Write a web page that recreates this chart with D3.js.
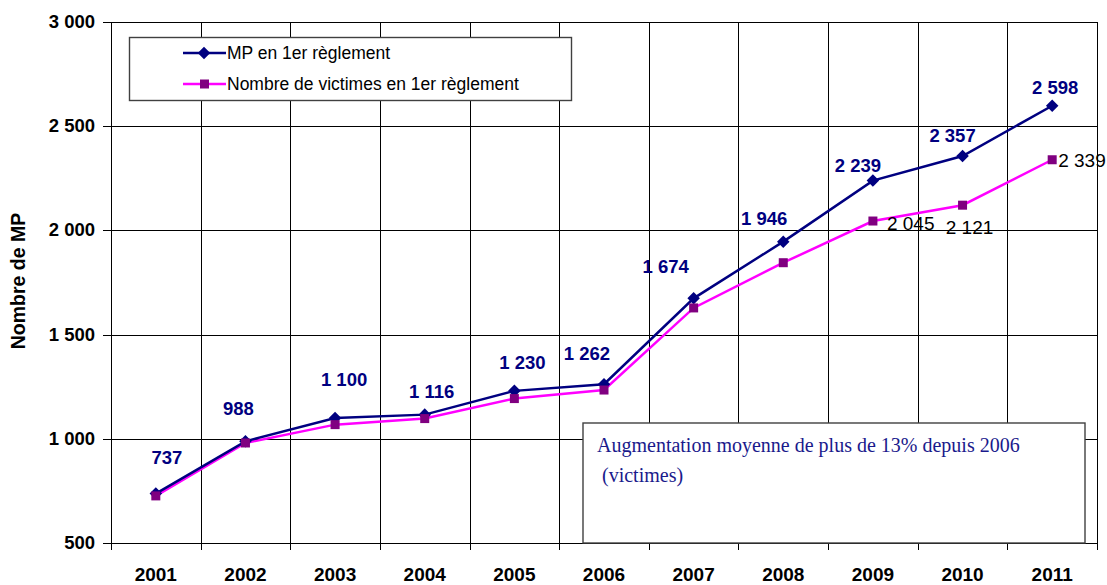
<!DOCTYPE html>
<html>
<head>
  <meta charset="utf-8">
  <script src="https://d3js.org/d3.v7.min.js"></script>
</head>
<style>
  body { margin: 0; background: #fff; }
  svg { display: block; font-family: "Liberation Sans", Arial, sans-serif; }
  .y-label { font-size: 18.5px; font-weight: bold; fill: #000; }
  .x-label { font-size: 19px; font-weight: bold; fill: #000; }
  .mp-label { font-size: 18.5px; font-weight: bold; fill: #000080; }
  .vic-label { font-size: 19px; fill: #000; }
  .legend-text { font-size: 17.5px; fill: #000; }
  .note { font-family: "Liberation Serif", "Times New Roman", serif; font-size: 20px; fill: #1a1a8c; }
</style>
<body>
  <svg id="chart" width="1107" height="585"></svg>
  <script>
    const years = ["2001", "2002", "2003", "2004", "2005", "2006", "2007", "2008", "2009", "2010", "2011"];
    const mpValues = [737, 988, 1100, 1116, 1230, 1262, 1674, 1946, 2239, 2357, 2598];
    const victimValues = [726, 980, 1068, 1097, 1193, 1234, 1628, 1845, 2045, 2121, 2339];
    const yTicks = [500, 1000, 1500, 2000, 2500, 3000];
    const seriesNames = ["MP en 1er règlement", "Nombre de victimes en 1er règlement"];
    const noteLines = ["Augmentation moyenne de plus de 13% depuis 2006", " (victimes)"];

    const svg = d3.select("#chart");
    const plotLeft = 111, plotRight = 1097, plotTop = 22, plotBottom = 543;

    const x = d3.scaleBand().domain(years).range([plotLeft, plotRight]);
    const y = d3.scaleLinear().domain([500, 3000]).range([plotBottom, plotTop]);
    const fmt = v => d3.format(",")(v).replace(/,/g, " ");
    const cx = d => x(d) + x.bandwidth() / 2;

    // horizontal grid, ticks to the left of the axis
    svg.append("g").selectAll("line").data(yTicks).join("line")
      .attr("x1", plotLeft - 8).attr("x2", plotRight)
      .attr("y1", d => Math.round(y(d)) + 0.5).attr("y2", d => Math.round(y(d)) + 0.5)
      .attr("stroke", "#000").attr("stroke-width", 1);

    // vertical grid at band edges, ticks below the axis
    const edges = years.map(d => x(d)).concat([plotRight]);
    svg.append("g").selectAll("line").data(edges).join("line")
      .attr("x1", d => Math.round(d) + 0.5).attr("x2", d => Math.round(d) + 0.5)
      .attr("y1", plotTop).attr("y2", plotBottom + 7)
      .attr("stroke", "#000").attr("stroke-width", 1);

    // y labels
    svg.append("g").selectAll("text").data(yTicks).join("text")
      .attr("class", "y-label")
      .attr("x", plotLeft - 16).attr("y", d => y(d) + 6)
      .attr("text-anchor", "end")
      .text(fmt);

    // x labels
    svg.append("g").selectAll("text").data(years).join("text")
      .attr("class", "x-label")
      .attr("x", cx).attr("y", 581)
      .attr("text-anchor", "middle")
      .text(d => d);

    svg.append("text")
      .attr("transform", "translate(25,281) rotate(-90)")
      .attr("text-anchor", "middle")
      .style("font-size", "19.5px").style("font-weight", "bold")
      .text("Nombre de MP");

    // note box
    svg.append("rect")
      .attr("x", 583).attr("y", 423).attr("width", 502).attr("height", plotBottom - 423)
      .attr("fill", "#fff").attr("stroke", "#404040").attr("stroke-width", 1.4);
    noteLines.forEach((t, i) => {
      svg.append("text").attr("class", "note")
        .attr("x", 597).attr("y", 452 + i * 30)
        .attr("xml:space", "preserve")
        .text(t);
    });

    // lines
    const line = d3.line().x((d, i) => cx(years[i])).y(d => y(d));

    svg.append("path").datum(victimValues)
      .attr("d", line).attr("fill", "none")
      .attr("stroke", "#ff00ff").attr("stroke-width", 2.5);
    svg.append("path").datum(mpValues)
      .attr("d", line).attr("fill", "none")
      .attr("stroke", "#000080").attr("stroke-width", 2.5);

    const diamond = d3.symbol().type(d3.symbolDiamond2).size(100);
    svg.append("g").selectAll("path").data(mpValues).join("path")
      .attr("d", diamond)
      .attr("transform", (d, i) => `translate(${cx(years[i])},${y(d)})`)
      .attr("fill", "#000080");
    svg.append("g").selectAll("rect").data(victimValues).join("rect")
      .attr("x", (d, i) => cx(years[i]) - 4.5).attr("y", d => y(d) - 4.5)
      .attr("width", 9).attr("height", 9)
      .attr("fill", "#800080");

    // data labels (nudges mimic the original placement)
    const mpShift = [[11, -37], [-7, -33], [9, -39], [7, -24], [8, -29], [-17, -31], [-28, -32], [-19, -24], [-15, -16], [-10, -21], [3, -19]];
    svg.append("g").selectAll("text").data(mpValues).join("text")
      .attr("class", "mp-label")
      .attr("x", (d, i) => cx(years[i]) + mpShift[i][0])
      .attr("y", (d, i) => y(d) + mpShift[i][1] + 7)
      .attr("text-anchor", "middle")
      .text(fmt);

    const vicShown = [8, 9, 10];
    const vicShift = { 8: [14, 2, "start"], 9: [7, 22, "middle"], 10: [6, 0, "start"] };
    svg.append("g").selectAll("text").data(vicShown).join("text")
      .attr("class", "vic-label")
      .attr("x", i => cx(years[i]) + vicShift[i][0])
      .attr("y", i => y(victimValues[i]) + vicShift[i][1] + 7)
      .attr("text-anchor", i => vicShift[i][2])
      .text(i => fmt(victimValues[i]));

    // legend
    const lg = svg.append("g");
    lg.append("rect")
      .attr("x", 129.5).attr("y", 37.5).attr("width", 442).attr("height", 63)
      .attr("fill", "#fff").attr("stroke", "#404040").attr("stroke-width", 1.4);
    const items = [
      { name: seriesNames[0], stroke: "#000080", fill: "#000080", shape: "diamond" },
      { name: seriesNames[1], stroke: "#ff00ff", fill: "#800080", shape: "square" }
    ];
    items.forEach((it, i) => {
      const ly = 53 + i * 31;
      lg.append("line").attr("x1", 183).attr("x2", 226).attr("y1", ly).attr("y2", ly)
        .attr("stroke", it.stroke).attr("stroke-width", 2.5);
      if (it.shape === "diamond") {
        lg.append("path").attr("d", diamond).attr("transform", `translate(204,${ly})`).attr("fill", it.fill);
      } else {
        lg.append("rect").attr("x", 200).attr("y", ly - 4.5).attr("width", 9).attr("height", 9).attr("fill", it.fill);
      }
      lg.append("text").attr("class", "legend-text")
        .attr("x", 227).attr("y", ly + 6).text(it.name);
    });
  </script>
</body>
</html>
